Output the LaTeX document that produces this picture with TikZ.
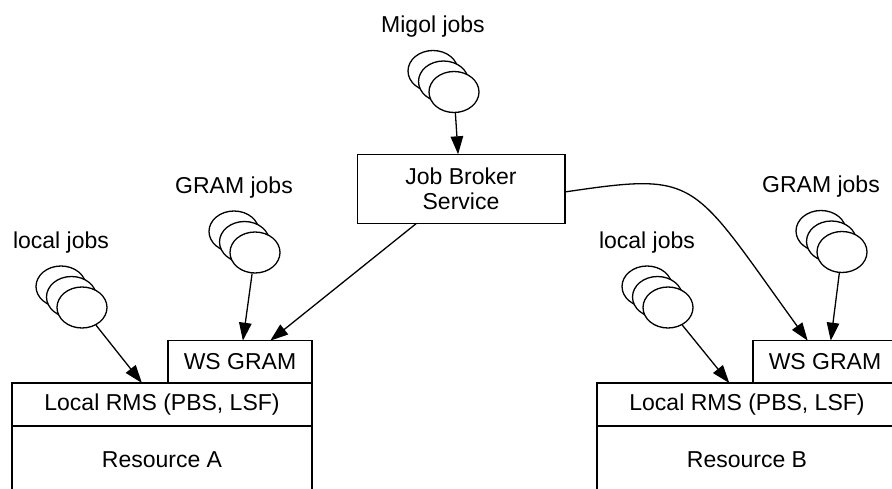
\documentclass[tikz,border=0pt]{standalone}
\usepackage{fontspec}
\setmainfont{Liberation Sans}
\usetikzlibrary{shapes.geometric,arrows.meta,positioning,calc}
\tikzset{
  jobdisc/.style = {ellipse, draw=black, fill=white, line width=1.3pt, minimum width=50pt, minimum height=41pt, inner sep=0pt},
  joblabel/.style = {inner sep=0pt, font=\fontsize{23}{25}\selectfont},
  boxnode/.style = {rectangle, draw=black, line width=1.3pt, align=center, inner sep=0pt, outer sep=0pt, font=\fontsize{23}{25}\selectfont},
  feed/.style = {line width=1.3pt, -{Triangle[length=18pt,width=12.5pt]}}
}

\begin{document}
\begin{tikzpicture}[x=1pt,y=-1pt]
\useasboundingbox (0,0) rectangle (892,489);
\clip (0,0) rectangle (892,489);

% job stacks, front disc is number 0
\foreach \n/\x/\y in {locA/82/307.5, gramA/255/252.5, migol/454/92, locB/668/307.5, gramB/842/252}{
  \foreach \i in {2,1,0}
    \node [jobdisc] (\n\i) at (\x-\i*10.5, \y-\i*10.5) {};
}
\node [joblabel, above=12pt of locA2] (locAlabel) {local jobs};
\node [joblabel, above=12pt of gramA2] (gramAlabel) {GRAM jobs};
\node [joblabel, above=12pt of migol2] (migollabel) {Migol jobs};
\node [joblabel, above=12pt of locB2] (locBlabel) {local jobs};
\node [joblabel, above=12pt of gramB2] (gramBlabel) {GRAM jobs};

\node [boxnode, minimum width=207.7pt, minimum height=69pt] (broker) at (461,188.8) {Job Broker\\Service};

% resource A
\node [boxnode, minimum width=300pt, minimum height=43pt] (rmsA) at (162,404.5) {Local RMS (PBS, LSF)};
\node [boxnode, minimum width=144pt, minimum height=42.3pt, anchor=south east] (wsA) at (rmsA.north east) {WS GRAM};
\node [boxnode, minimum width=300pt, minimum height=68pt, anchor=north] (resA) at (rmsA.south) {Resource A};

% resource B
\node [boxnode, minimum width=300pt, minimum height=43pt] (rmsB) at (747,404.5) {Local RMS (PBS, LSF)};
\node [boxnode, minimum width=144pt, minimum height=42.3pt, anchor=south east] (wsB) at (rmsB.north east) {WS GRAM};
\node [boxnode, minimum width=300pt, minimum height=68pt, anchor=north] (resB) at (rmsB.south) {Resource B};

\draw [feed] (migol0) -- ($(broker.north west)!0.486!(broker.north east)$);
\draw [feed] (locA0) -- ($(rmsA.north west)!0.433!(rmsA.north east)$);
\draw [feed] (gramA0) -- ($(wsA.north west)!0.52!(wsA.north east)$);
\draw [feed] ($(broker.south west)!0.286!(broker.south east)$) -- ($(wsA.north west)!0.71!(wsA.north east)$);
\draw [feed] (locB0) -- ($(rmsB.north west)!0.441!(rmsB.north east)$);
\draw [feed] (gramB0) -- ($(wsB.north west)!0.54!(wsB.north east)$);
\draw [feed] ($(broker.north east)!0.546!(broker.south east)$)
  .. controls (700,172) and (690,178) .. ($(wsB.north west)!0.38!(wsB.north east)$);
\end{tikzpicture}
\end{document}
